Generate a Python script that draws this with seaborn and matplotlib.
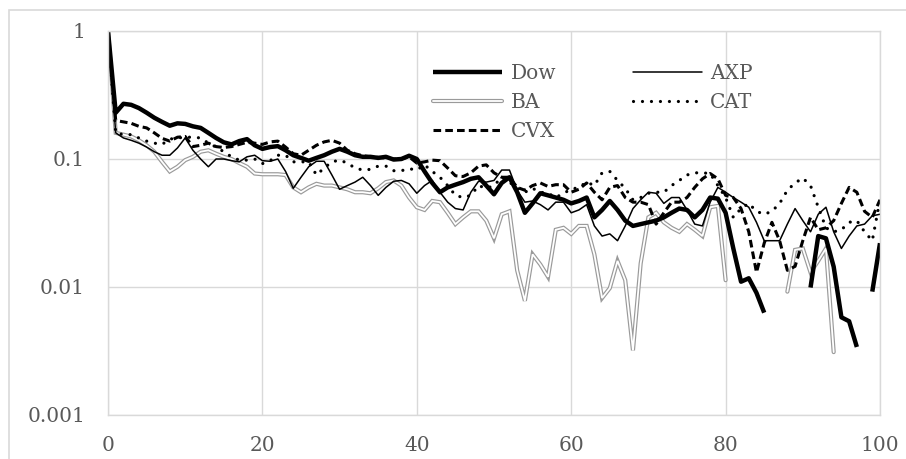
import numpy as np
import pandas as pd
import matplotlib
matplotlib.use("Agg")
import matplotlib.pyplot as plt
import seaborn as sns
from matplotlib.lines import Line2D
from matplotlib.legend_handler import HandlerTuple
from matplotlib.patches import Rectangle

nan = np.nan
x_vals = list(range(0, 101))

dow = [1.0, 0.23, 0.27, 0.265, 0.25, 0.23, 0.21, 0.195, 0.182, 0.19,
       0.188, 0.18, 0.175, 0.16, 0.146, 0.135, 0.13, 0.138, 0.143, 0.128,
       0.12, 0.124, 0.126, 0.117, 0.107, 0.102, 0.097, 0.102, 0.107, 0.114,
       0.12, 0.114, 0.107, 0.104, 0.104, 0.102, 0.104, 0.099, 0.1, 0.106,
       0.1, 0.08, 0.065, 0.055, 0.06, 0.063, 0.066, 0.07, 0.072, 0.062,
       0.053, 0.065, 0.072, 0.055, 0.038, 0.045, 0.054, 0.052, 0.05, 0.048,
       0.045, 0.047, 0.05, 0.035, 0.04, 0.047, 0.04, 0.033, 0.03, 0.031,
       0.032, 0.033, 0.035, 0.038, 0.041, 0.04, 0.035, 0.04, 0.05, 0.049,
       0.038, 0.02, 0.011, 0.0117, 0.009, 0.0063, nan, nan, nan, nan,
       nan, 0.0099, 0.025, 0.024, 0.0144, 0.0058, 0.0054, 0.0034, nan, 0.0092,
       0.022]

axp = [1.0, 0.16, 0.146, 0.14, 0.133, 0.124, 0.114, 0.107, 0.107, 0.122,
       0.146, 0.117, 0.1, 0.087, 0.1, 0.1, 0.097, 0.095, 0.104, 0.107,
       0.097, 0.096, 0.1, 0.08, 0.059, 0.072, 0.087, 0.096, 0.096, 0.075,
       0.058, 0.062, 0.066, 0.072, 0.062, 0.052, 0.06, 0.067, 0.068, 0.064,
       0.054, 0.062, 0.068, 0.055, 0.046, 0.041, 0.04, 0.055, 0.067, 0.066,
       0.068, 0.082, 0.082, 0.057, 0.046, 0.047, 0.044, 0.04, 0.046, 0.046,
       0.038, 0.04, 0.044, 0.03, 0.025, 0.026, 0.023, 0.03, 0.041, 0.048,
       0.055, 0.054, 0.045, 0.05, 0.05, 0.04, 0.031, 0.03, 0.046, 0.06,
       0.055, 0.05, 0.046, 0.042, 0.032, 0.023, 0.023, 0.023, 0.031, 0.041,
       0.033, 0.027, 0.037, 0.042, 0.027, 0.02, 0.025, 0.03, 0.031, 0.036,
       0.037]

ba = [1.0, 0.16, 0.155, 0.15, 0.14, 0.128, 0.114, 0.095, 0.08, 0.087,
      0.098, 0.104, 0.114, 0.117, 0.11, 0.104, 0.1, 0.093, 0.087, 0.077,
      0.076, 0.076, 0.076, 0.075, 0.06, 0.055, 0.06, 0.064, 0.062, 0.062,
      0.06, 0.058, 0.055, 0.055, 0.054, 0.059, 0.066, 0.068, 0.062, 0.05,
      0.042, 0.04, 0.047, 0.046, 0.038, 0.031, 0.035, 0.039, 0.039, 0.033,
      0.024, 0.037, 0.039, 0.0135, 0.0078, 0.018, 0.015, 0.012, 0.028, 0.029,
      0.026, 0.03, 0.03, 0.018, 0.0082, 0.0098, 0.016, 0.0113, 0.0032, 0.0153,
      0.035, 0.038, 0.032, 0.029, 0.027, 0.031, 0.028, 0.025, 0.042, 0.043,
      0.0113, nan, nan, nan, nan, nan, nan, nan, 0.0092, 0.0195,
      0.02, 0.013, 0.016, 0.02, 0.0031, nan, nan, nan, nan, nan,
      nan]

cat = [1.0, 0.16, 0.155, 0.155, 0.146, 0.138, 0.133, 0.13, 0.143, 0.146,
       0.148, 0.148, 0.146, 0.133, 0.124, 0.114, 0.104, 0.098, 0.098, 0.1,
       0.092, 0.097, 0.107, 0.107, 0.095, 0.095, 0.095, 0.075, 0.085, 0.095,
       0.098, 0.093, 0.085, 0.082, 0.083, 0.088, 0.088, 0.081, 0.081, 0.084,
       0.082, 0.09, 0.08, 0.072, 0.062, 0.052, 0.05, 0.052, 0.062, 0.059,
       0.062, 0.072, 0.066, 0.059, 0.055, 0.059, 0.055, 0.054, 0.05, 0.054,
       0.058, 0.06, 0.066, 0.062, 0.078, 0.08, 0.068, 0.059, 0.048, 0.05,
       0.054, 0.055, 0.055, 0.062, 0.068, 0.075, 0.078, 0.078, 0.077, 0.062,
       0.05, 0.035, 0.041, 0.045, 0.039, 0.037, 0.039, 0.045, 0.057, 0.065,
       0.071, 0.062, 0.042, 0.029, 0.027, 0.028, 0.032, 0.033, 0.027, 0.023,
       0.048]

cvx = [1.0, 0.2, 0.195, 0.19, 0.18, 0.175, 0.16, 0.145, 0.138, 0.148,
       0.15, 0.125, 0.128, 0.133, 0.125, 0.123, 0.125, 0.13, 0.135, 0.133,
       0.13, 0.136, 0.138, 0.124, 0.11, 0.107, 0.117, 0.128, 0.136, 0.14,
       0.133, 0.117, 0.11, 0.106, 0.104, 0.103, 0.102, 0.1, 0.1, 0.104,
       0.093, 0.095, 0.098, 0.097, 0.085, 0.074, 0.073, 0.078, 0.088, 0.09,
       0.078, 0.072, 0.072, 0.06, 0.057, 0.062, 0.065, 0.061, 0.063, 0.063,
       0.055, 0.058, 0.065, 0.055, 0.048, 0.06, 0.062, 0.05, 0.046, 0.046,
       0.044, 0.031, 0.038, 0.046, 0.046, 0.05, 0.06, 0.07, 0.077, 0.07,
       0.052, 0.05, 0.041, 0.027, 0.013, 0.022, 0.032, 0.023, 0.0135, 0.0145,
       0.023, 0.035, 0.028, 0.029, 0.033, 0.045, 0.06, 0.055, 0.039, 0.035,
       0.048]

series_names = ["Dow", "AXP", "BA", "CAT", "CVX"]
x_ticks = [0, 20, 40, 60, 80, 100]
y_ticks = [0.001, 0.01, 0.1, 1]
y_tick_labels = ["0.001", "0.01", "0.1", "1"]

frames = []
for name, vals in zip(series_names, [dow, axp, ba, cat, cvx]):
    d = pd.DataFrame({"x": x_vals, "value": vals})
    d["seg"] = d["value"].isna().cumsum()
    d["series"] = name
    frames.append(d.dropna())
df = pd.concat(frames, ignore_index=True)

sns.set_theme(style="white")
plt.rcParams["font.family"] = ["DejaVu Serif"]

TXT = "#595959"
GRID = "#d9d9d9"

fig = plt.figure(figsize=(9.06, 4.59), dpi=100)
ax = fig.add_axes([108 / 906, 1 - 415 / 459, (880 - 108) / 906, (415 - 31) / 459])
ax.set_yscale("log")

styles = {
    "Dow": dict(color="black", lw=3.2, solid_joinstyle="round", solid_capstyle="butt"),
    "AXP": dict(color="black", lw=1.1, solid_joinstyle="round"),
    "CAT": dict(color="black", lw=2.3, linestyle=(0, (0.01, 2.8)), dash_capstyle="round"),
    "CVX": dict(color="black", lw=2.2, linestyle=(0, (2.5, 1.35)), dash_capstyle="butt",
                dash_joinstyle="round"),
}

# BA: compound (double) gray line
ba_df = df[df["series"] == "BA"]
sns.lineplot(data=ba_df, x="x", y="value", units="seg", estimator=None,
             color="#9a9a9a", lw=3.0, ax=ax, legend=False, solid_joinstyle="miter")
sns.lineplot(data=ba_df, x="x", y="value", units="seg", estimator=None,
             color="white", lw=1.3, ax=ax, legend=False, solid_joinstyle="miter")

for name in ["AXP", "CAT", "CVX", "Dow"]:
    sub = df[df["series"] == name]
    sns.lineplot(data=sub, x="x", y="value", units="seg", estimator=None,
                 ax=ax, legend=False, **styles[name])

ax.set_xlim(0, 100)
ax.set_ylim(0.001, 1)
ax.set_xticks(x_ticks)
ax.set_xticklabels([str(t) for t in x_ticks])
ax.set_yticks(y_ticks)
ax.set_yticklabels(y_tick_labels)
ax.yaxis.set_minor_locator(matplotlib.ticker.NullLocator())
ax.set_xlabel("")
ax.set_ylabel("")
ax.grid(True, which="major", color=GRID, lw=1.0)
ax.set_axisbelow(True)
for sp in ax.spines.values():
    sp.set_color(GRID)
    sp.set_linewidth(1.0)
ax.tick_params(axis="both", length=0, labelsize=14.5, colors=TXT)
ax.tick_params(axis="y", pad=16.5)
ax.tick_params(axis="x", pad=15)

# legend
h_dow = Line2D([], [], **styles["Dow"])
h_axp = Line2D([], [], **styles["AXP"])
h_cat = Line2D([], [], **styles["CAT"])
h_cvx = Line2D([], [], **styles["CVX"])
h_ba = (Line2D([], [], color="#9a9a9a", lw=3.0), Line2D([], [], color="white", lw=1.3))
leg = ax.legend([h_dow, h_ba, h_cvx, h_axp, h_cat], ["Dow", "BA", "CVX", "AXP", "CAT"],
                handler_map={tuple: HandlerTuple(ndivide=1, pad=0)},
                ncol=2, frameon=False, fontsize=14.5, loc="upper left",
                bbox_to_anchor=(433 / 906, 1 - 64 / 459), bbox_transform=fig.transFigure,
                borderpad=0, borderaxespad=0, handlelength=3.45, handletextpad=0.4,
                labelspacing=0.5, columnspacing=3.8)
for t in leg.get_texts():
    t.set_color(TXT)

# outer chart border (top and left visible)
fig.patches.append(Rectangle((8.5 / 906, -0.1), 1.5, 1.1 - 10.5 / 459, transform=fig.transFigure,
                             fill=False, edgecolor=GRID, lw=1.2))

fig.savefig("out.png", dpi=100)
